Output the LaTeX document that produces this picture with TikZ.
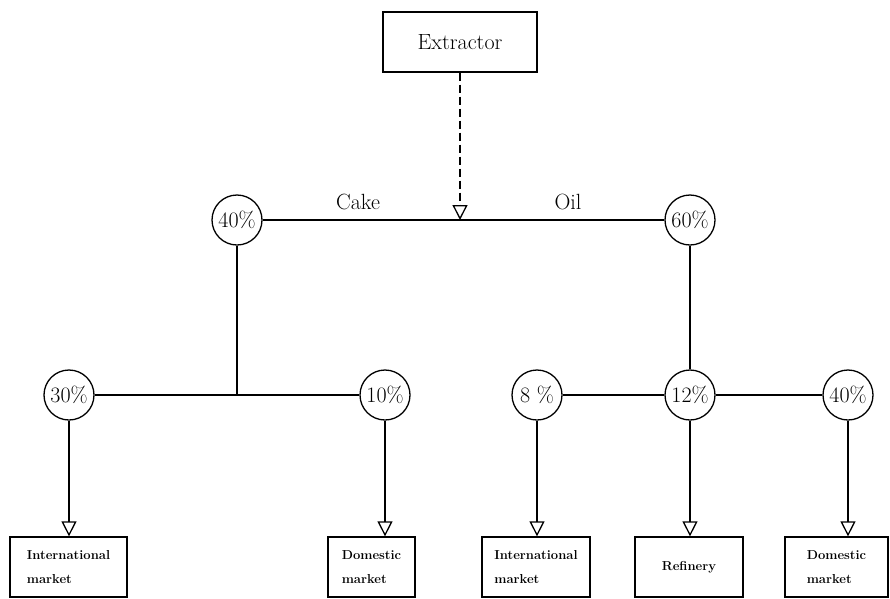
\documentclass[tikz,border=0pt]{standalone}
\usepackage{fontspec}
\usetikzlibrary{arrows.meta}
\begin{document}
\begin{tikzpicture}[x=1pt,y=-1pt,
  line width=1.3pt,
  pct/.style={circle,draw,line width=1.3pt,minimum size=50pt,inner sep=0pt,
    font=\fontsize{22}{22}\selectfont},
  market/.style={draw,line width=1.3pt,minimum height=60pt,align=left,
    inner sep=0pt,font=\fontsize{13}{24}\selectfont\bfseries},
  headbox/.style={draw,line width=1.3pt,minimum width=154pt,minimum height=60pt,
    font=\fontsize{22}{22}\selectfont\addfontfeatures{LetterSpace=4}},
  flow/.style={-{Triangle[open,width=15pt,length=15pt,line width=1.3pt]}},
  lbl/.style={font=\fontsize{22}{22}\selectfont\addfontfeatures{LetterSpace=6}}]
\useasboundingbox (0,0) rectangle (890,598);

% source
\node[headbox] (ext) at (460,42) {Extractor};

% first split
\node[pct] (c40a) at (237,220) {40\%};
\node[pct] (c60)  at (690,220) {60\%};
\coordinate (split) at (460,220);
\node[lbl] (cake) at (358,202) {Cake};
\node[lbl] (oil)  at (568,202) {Oil};

% second split
\node[pct] (c30)  at (69,395)  {30\%};
\node[pct] (c10)  at (385,395) {10\%};
\node[pct] (c8)   at (537,395) {8 \%};
\node[pct] (c12)  at (690,395) {12\%};
\node[pct] (c40b) at (848,395) {40\%};

% destinations
\node[market,minimum width=117pt] (b1) at (68.5,567) {International\\market};
\node[market,minimum width=87pt]  (b2) at (371.5,567) {Domestic\\market};
\node[market,minimum width=108pt] (b3) at (536,567) {International\\market};
\node[market,minimum width=108pt] (b4) at (689,567) {Refinery};
\node[market,minimum width=103pt] (b5) at (836.5,567) {Domestic\\market};

% connectors
\draw[flow,dash pattern=on 8pt off 4pt] (ext) -- (split);
\draw (c40a) -- (c60);
\draw (c40a) -- (c40a |- c30);
\draw (c30) -- (c10);
\draw (c60) -- (c12);
\draw (c8) -- (c12);
\draw (c12) -- (c40b);

\draw[flow] (c30)  -- (c30 |- b1.north);
\draw[flow] (c10)  -- (c10 |- b2.north);
\draw[flow] (c8)   -- (c8 |- b3.north);
\draw[flow] (c12)  -- (c12 |- b4.north);
\draw[flow] (c40b) -- (c40b |- b5.north);
\end{tikzpicture}
\end{document}
